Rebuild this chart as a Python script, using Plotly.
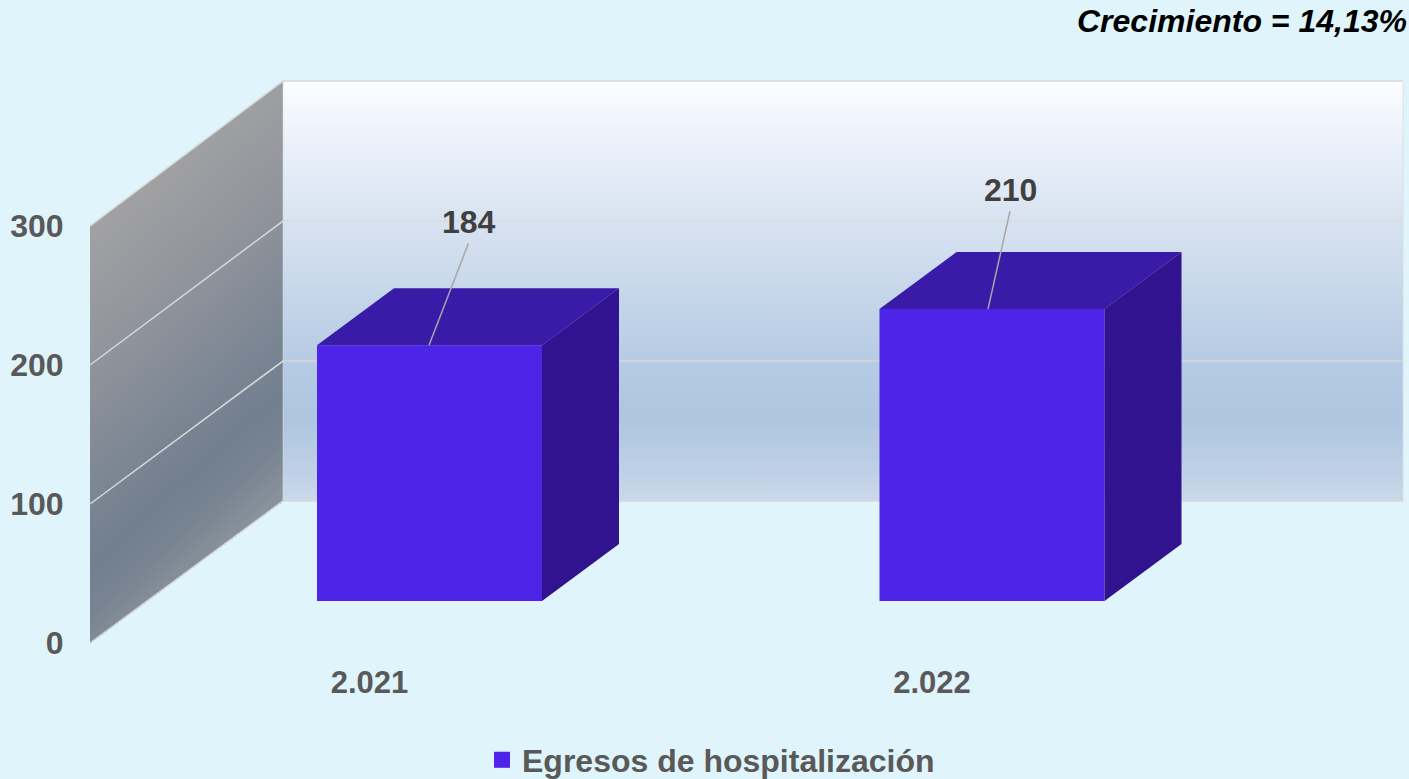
import plotly.graph_objects as go

# --- data ---
categories = ["2.021", "2.022"]
egresos = [184, 210]
y_ticks = [0, 100, 200, 300]
series_name = "Egresos de hospitalización"
growth_text = "Crecimiento = 14,13%"

# --- figure geometry (1 axis x unit = one category step) ---
W, H = 1409, 779
ML, MR, MT, MB = 76, 0, 60, 128
PX_PER_CAT = 562.5
PX_PER_VAL = 1.39
X0_PX = 429.5          # pixel of category 0
Y0_PX = 643.0          # pixel of value 0 on the front of the wall


def ux(px):
    return px / PX_PER_CAT


def uy(px):
    return px / PX_PER_VAL


x_range = [(ML - X0_PX) / PX_PER_CAT, (W - MR - X0_PX) / PX_PER_CAT]
y_range = [(Y0_PX - (H - MB)) / PX_PER_VAL, (Y0_PX - MT) / PX_PER_VAL]

wall_x = (90 - X0_PX) / PX_PER_CAT
wall_dx, wall_dy = ux(193), uy(142)
wall_scale = 1.007
right_x = (1403 - X0_PX) / PX_PER_CAT
bar_w = ux(225)
bar_dx, bar_dy = ux(77), uy(57)
bar_base = uy(42)
label_shift = ux(-60)
top_tick = y_ticks[-1]


def bx(v):
    return wall_x + wall_dx


def back_y(v):
    return v * wall_scale + wall_dy


fig = go.Figure()

# --- back wall ---
back_stops = [(501, "#CBD8E9"), (470, "#BED0E6"), (420, "#AFC5E0"), (360, "#B6CBE4"),
              (220, "#D8E3F1"), (130, "#EEF3FB"), (81, "#FCFDFF")]
b0, b1 = back_y(0), back_y(top_tick)
fig.add_trace(go.Scatter(
    x=[bx(0), right_x, right_x, bx(0), bx(0)], y=[b0, b0, b1, b1, b0],
    mode="lines", line=dict(width=0), fill="toself", showlegend=False, hoverinfo="skip",
    fillgradient=dict(type="vertical", start=b0, stop=b1,
                      colorscale=[[(501 - p) / 420, c] for p, c in back_stops]),
))

# --- side wall: diagonal gradient painted as overlapping bands ---
side_stops = [(0, (162, 162, 164)), (150, (143, 147, 155)), (280, (122, 133, 147)),
              (340, (114, 127, 143)), (390, (120, 132, 146)), (449, (138, 148, 158))]


def side_col(s):
    for (a, ca), (b, cb) in zip(side_stops, side_stops[1:]):
        if s <= b:
            t = (s - a) / (b - a)
            return "rgb(%d,%d,%d)" % tuple(round(p + (q - p) * t) for p, q in zip(ca, cb))
    return "rgb(%d,%d,%d)" % side_stops[-1][1]


def s_of(pt):
    xp = pt[0] * PX_PER_CAT + X0_PX
    yp = Y0_PX - pt[1] * PX_PER_VAL
    return yp + 0.9 * (xp - 90) - 226


def clip(poly, s0):
    out = []
    for i, p in enumerate(poly):
        q = poly[(i + 1) % len(poly)]
        sp, sq = s_of(p), s_of(q)
        if sp >= s0:
            out.append(p)
        if (sp >= s0) != (sq >= s0):
            t = (s0 - sp) / (sq - sp)
            out.append((p[0] + (q[0] - p[0]) * t, p[1] + (q[1] - p[1]) * t))
    return out


side_poly = [(wall_x, 0), (bx(0), back_y(0)), (bx(0), back_y(top_tick)), (wall_x, top_tick)]
for s in range(-1, 450, 5):
    pts = clip(side_poly, s)
    if len(pts) >= 3:
        fig.add_trace(go.Scatter(
            x=[p[0] for p in pts] + [pts[0][0]], y=[p[1] for p in pts] + [pts[0][1]],
            mode="lines", line=dict(width=0), fill="toself", fillcolor=side_col(s + 2.5),
            showlegend=False, hoverinfo="skip"))

# --- wall grid lines and edges ---
for v in y_ticks:
    fig.add_trace(go.Scatter(
        x=[wall_x, bx(v), right_x], y=[v, back_y(v), back_y(v)], mode="lines",
        line=dict(color="#D9D9D9", width=1.5), showlegend=False, hoverinfo="skip"))
fig.add_trace(go.Scatter(
    x=[bx(0), bx(0)], y=[back_y(0), back_y(top_tick)], mode="lines",
    line=dict(color="rgba(217,217,217,0.6)", width=1), showlegend=False, hoverinfo="skip"))
fig.add_trace(go.Scatter(
    x=[right_x, right_x], y=[back_y(0), back_y(top_tick)], mode="lines",
    line=dict(color="rgba(217,217,217,0.7)", width=1), showlegend=False, hoverinfo="skip"))

# --- bars ---
FRONT, TOP, SIDE = "#4E24E8", "#3A1BA8", "#311390"
xs = list(range(len(categories)))
fig.add_trace(go.Bar(
    x=xs, y=egresos, base=bar_base, width=bar_w, marker=dict(color=FRONT, line=dict(width=0)),
    showlegend=False, hoverinfo="skip", xaxis="x2", yaxis="y2"))
label_dx = [ux(39), ux(18)]
label_dy = [uy(102), uy(98)]
start_dx = [ux(-0.5), ux(-4)]
for xc, v in zip(xs, egresos):
    l, r = xc - bar_w / 2, xc + bar_w / 2
    t = bar_base + v
    fig.add_trace(go.Scatter(
        x=[l, r, r + bar_dx, l + bar_dx, l], y=[t, t, t + bar_dy, t + bar_dy, t],
        mode="lines", line=dict(width=0), fill="toself", fillcolor=TOP,
        showlegend=False, hoverinfo="skip", xaxis="x2", yaxis="y2"))
    fig.add_trace(go.Scatter(
        x=[r, r + bar_dx, r + bar_dx, r, r],
        y=[bar_base, bar_base + bar_dy, t + bar_dy, t, bar_base],
        mode="lines", line=dict(width=0), fill="toself", fillcolor=SIDE,
        showlegend=False, hoverinfo="skip", xaxis="x2", yaxis="y2"))

# --- leader lines and value labels ---
annotations = []
for xc, v, sdx, ldx, ldy in zip(xs, egresos, start_dx, label_dx, label_dy):
    t = bar_base + v
    fig.add_trace(go.Scatter(
        x=[xc + sdx, xc + ldx], y=[t, t + ldy], mode="lines",
        line=dict(color="#A6A6A6", width=1.5), showlegend=False, hoverinfo="skip",
        xaxis="x2", yaxis="y2"))
    annotations.append(dict(
        x=xc + ldx, y=t + ldy + uy(21), xref="x2", yref="y2", text=str(v), showarrow=False,
        xanchor="center", yanchor="middle",
        font=dict(family="Liberation Sans", size=32, color="#404040", weight="bold")))

# --- legend entry ---
fig.add_trace(go.Scatter(
    x=[None], y=[None], mode="markers", name=series_name, showlegend=True,
    marker=dict(symbol="square", size=16, color=FRONT), xaxis="x2", yaxis="y2"))

annotations.append(dict(
    x=1, y=(H - MB - 21) / (H - MT - MB), xref="paper", yref="paper", xanchor="right", yanchor="middle",
    xshift=0, text=growth_text, showarrow=False,
    font=dict(family="Liberation Sans", size=32, color="#000000", weight="bold", style="italic")))

tick_font = dict(family="Liberation Sans", size=32, color="#595959", weight="bold")
xtick_font = dict(family="Liberation Sans", size=31, color="#595959", weight="bold")
axis_common = dict(showgrid=False, zeroline=False, showline=False)
fig.update_layout(
    width=W, height=H, margin=dict(l=ML, r=MR, t=MT, b=MB, pad=0),
    paper_bgcolor="#DFF4FB", plot_bgcolor="rgba(0,0,0,0)",
    barmode="overlay", annotations=annotations, hovermode=False,
    xaxis=dict(range=x_range, tickmode="array", tickvals=[i + label_shift for i in xs], ticktext=categories,
               tickfont=xtick_font, ticks="outside", ticklen=4, tickcolor="rgba(0,0,0,0)", **axis_common),
    yaxis=dict(range=y_range, tickmode="array", tickvals=y_ticks, ticktext=[str(v) for v in y_ticks],
               tickfont=tick_font, ticks="outside", ticklen=5, tickcolor="rgba(0,0,0,0)", **axis_common),
    xaxis2=dict(range=x_range, overlaying="x", visible=False, **axis_common),
    yaxis2=dict(range=y_range, overlaying="y", visible=False, **axis_common),
    legend=dict(xref="paper", yref="container", x=(482 - ML) / (W - ML - MR), y=1 - 760 / H,
                xanchor="left", yanchor="middle",
                bgcolor="rgba(0,0,0,0)", borderwidth=0,
                font=dict(family="Liberation Sans", size=32, color="#595959", weight="bold")),
)

fig.write_html("out.html", config={"displayModeBar": False},
               post_script="document.body.style.margin='0';document.documentElement.style.background='#DFF4FB';")
